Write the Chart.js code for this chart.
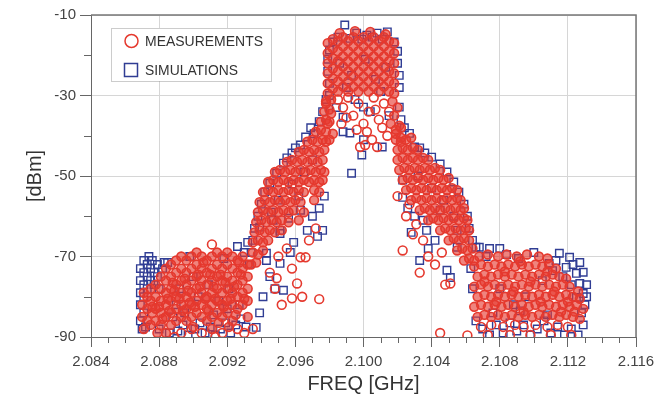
<!DOCTYPE html>
<html lang="en">
<head>
<meta charset="UTF-8">
<title>Spectrum: measurements vs simulations</title>
<script src="https://cdn.jsdelivr.net/npm/chart.js"></script>
<style>
  html, body { margin: 0; padding: 0; background: #fff; }
  #wrap { width: 665px; height: 400px; }
</style>
</head>
<body>
<div id="wrap"><canvas id="spectrumChart" width="665" height="400"></canvas></div>
<script>
  // axis ticks
  const freqTicks = [2.084, 2.088, 2.092, 2.096, 2.100, 2.104, 2.108, 2.112, 2.116];
  const dbmTicks = [-90, -70, -50, -30, -10];
  const dbmMinorTicks = [-80, -60, -40, -20];
  const seriesNames = ['MEASUREMENTS', 'SIMULATIONS'];

  const measFloorLow = [
    [2.0870,-82],[2.0870,-85],[2.0871,-79],[2.0871,-88],[2.0873,-80],[2.0873,-83],[2.0873,-86],
    [2.0875,-78],[2.0875,-81],[2.0876,-84],[2.0875,-87],[2.0876,-82.5],
    [2.0878,-77],[2.0878,-80],[2.0878,-83],[2.0878,-86],[2.0879,-89],
    [2.0881,-75],[2.0881,-78],[2.0881,-81],[2.0881,-84],[2.0881,-87],[2.0882,-85.5],
    [2.0884,-73],[2.0884,-76],[2.0884,-79],[2.0884,-82],[2.0884,-85],[2.0884,-89],[2.0885,-80.5],
    [2.0887,-72],[2.0887,-75],[2.0887,-78],[2.0887,-81],[2.0887,-84],[2.0887,-87],[2.0889,-78.5],
    [2.0890,-71],[2.0890,-74],[2.0890,-77],[2.0890,-80],[2.0890,-83],[2.0890,-86],
    [2.0893,-70],[2.0893,-73],[2.0893,-76],[2.0893,-79],[2.0893,-82],[2.0893,-85],[2.0895,-75.5],
    [2.0896,-71],[2.0896,-74],[2.0896,-77],[2.0896,-80],[2.0896,-83],[2.0896,-86],[2.0898,-81.5],
    [2.0899,-70],[2.0899,-73],[2.0899,-76],[2.0899,-79],[2.0899,-82],[2.0899,-85],[2.0900,-87.5],
    [2.0902,-69],[2.0902,-72],[2.0902,-75],[2.0902,-78],[2.0902,-81],[2.0902,-84],[2.0904,-77.5],
    [2.0905,-70],[2.0905,-73],[2.0905,-76],[2.0905,-79],[2.0905,-82],[2.0905,-85],
    [2.0908,-71],[2.0908,-74],[2.0908,-77],[2.0908,-80],[2.0908,-83],[2.0908,-86],[2.0910,-74.5],
    [2.0911,-70],[2.0911,-73],[2.0911,-76],[2.0911,-79],[2.0911,-82],[2.0911,-85],[2.0911,-88],
    [2.0913,-80.5],
    [2.0914,-69],[2.0914,-72],[2.0914,-75],[2.0914,-78],[2.0914,-81],[2.0914,-84],[2.0915,-86.5],
    [2.0917,-70],[2.0917,-73],[2.0917,-76],[2.0917,-79],[2.0917,-82],[2.0917,-85],[2.0919,-76.5],
    [2.0920,-69],[2.0920,-72],[2.0920,-75],[2.0920,-78],[2.0920,-81],[2.0920,-84],[2.0921,-87.5],[2.0922,-80.5],
    [2.0923,-70],[2.0923,-73],[2.0923,-76],[2.0923,-79],[2.0923,-82],[2.0923,-86],
    [2.0926,-71],[2.0926,-74],[2.0926,-77],[2.0926,-80],[2.0926,-83],[2.0928,-74.5],
    [2.0929,-70],[2.0929,-73],[2.0929,-76],[2.0929,-79],[2.0929,-82],
    [2.0932,-72],[2.0932,-75],[2.0932,-78],[2.0932,-81],[2.0932,-85],
    [2.0888,-76.5],[2.0892,-80.5],[2.0894,-83.5],[2.0897,-78.5],[2.0901,-82.5],[2.0903,-74.5],
    [2.0907,-80.5],[2.0909,-83.5],[2.0912,-77.5],[2.0916,-74.5],[2.0918,-82.5],[2.0924,-77.5],
    [2.0925,-84.5],[2.0927,-71.5],[2.0930,-80.5],[2.0906,-71.5],[2.0886,-83.5],[2.0880,-82.5]
  ];
  const measShoulderLow = [
    [2.0934,-72],[2.0937,-71.5],
    [2.0935,-69],[2.0938,-69.5],[2.0941,-68.5],
    [2.0935,-66.5],[2.0938,-66],[2.0941,-66.5],[2.0944,-66],
    [2.0936,-64],[2.0939,-63.5],[2.0942,-64],[2.0945,-63.5],[2.0948,-64],[2.0952,-63.5],
    [2.0937,-61.5],[2.0940,-61],[2.0943,-61.5],[2.0946,-61],[2.0949,-61.5],[2.0952,-61],[2.0956,-61.5],[2.0962,-61],
    [2.0938,-59],[2.0941,-58.5],[2.0944,-59],[2.0947,-58.5],[2.0950,-59],[2.0953,-58.5],[2.0956,-59],[2.0959,-58.5],[2.0965,-59],
    [2.0939,-56.5],[2.0942,-56],[2.0945,-56.5],[2.0948,-56],[2.0951,-56.5],[2.0954,-56],[2.0957,-56.5],[2.0960,-56],[2.0963,-56.5],[2.0971,-56],
    [2.0941,-54],[2.0944,-53.5],[2.0947,-54],[2.0950,-53.5],[2.0953,-54],[2.0956,-53.5],[2.0959,-54],[2.0962,-53.5],[2.0965,-54],[2.0971,-53.5],[2.0974,-54],
    [2.0944,-51.5],[2.0947,-51],[2.0950,-51.5],[2.0953,-51],[2.0956,-51.5],[2.0959,-51],[2.0962,-51.5],[2.0965,-51],[2.0968,-51.5],[2.0971,-51],[2.0974,-51.5],[2.0976,-51],
    [2.0948,-49],[2.0951,-48.5],[2.0954,-49],[2.0957,-48.5],[2.0960,-49],[2.0963,-48.5],[2.0966,-49],[2.0969,-48.5],[2.0972,-49],[2.0975,-48.5],[2.0977,-49],
    [2.0955,-46.5],[2.0958,-46],[2.0961,-46.5],[2.0964,-46],[2.0967,-46.5],[2.0970,-46],[2.0973,-46.5],[2.0976,-46],
    [2.0962,-44],[2.0965,-43.5],[2.0968,-44],[2.0971,-43.5],[2.0974,-44],[2.0977,-43.5],
    [2.0967,-41.5],[2.0970,-41],[2.0973,-41.5],[2.0976,-41],[2.0978,-41.5],
    [2.0972,-39],[2.0975,-38.5],[2.0978,-39],
    [2.0975,-36.5],[2.0978,-36],[2.0980,-36.5],
    [2.0977,-34],[2.0980,-33.5],
    [2.0978,-31.5],[2.0981,-31]
  ];
  const measChannel = [
    [2.0979,-17],[2.0979,-19.5],[2.0979,-22],[2.0979,-24.5],[2.0979,-27],[2.0979,-29.5],
    [2.0982,-16],[2.0982,-18.3],[2.0982,-20.8],[2.0982,-23.3],[2.0982,-25.8],[2.0982,-28.3],
    [2.0985,-16.5],[2.0985,-19],[2.0985,-21.5],[2.0985,-24],[2.0985,-26.5],[2.0985,-29],
    [2.0988,-15.5],[2.0988,-17.8],[2.0988,-20.3],[2.0988,-22.8],[2.0988,-25.3],[2.0988,-27.8],
    [2.0991,-16.5],[2.0991,-19],[2.0991,-21.5],[2.0991,-24],[2.0991,-26.5],[2.0991,-29],
    [2.0994,-15.5],[2.0994,-17.8],[2.0994,-20.3],[2.0994,-22.8],[2.0994,-25.3],[2.0994,-27.8],
    [2.0997,-16.5],[2.0997,-19],[2.0997,-21.5],[2.0997,-24],[2.0997,-26.5],[2.0997,-29],
    [2.1000,-15.5],[2.1000,-17.8],[2.1000,-20.3],[2.1000,-22.8],[2.1000,-25.3],[2.1000,-27.8],
    [2.1003,-16.5],[2.1003,-19],[2.1003,-21.5],[2.1003,-24],[2.1003,-26.5],[2.1003,-29],
    [2.1006,-15.5],[2.1006,-17.8],[2.1006,-20.3],[2.1006,-22.8],[2.1006,-25.3],[2.1006,-27.8],
    [2.1009,-16.5],[2.1009,-19],[2.1009,-21.5],[2.1009,-24],[2.1009,-26.5],[2.1009,-29],
    [2.1012,-15.5],[2.1012,-17.8],[2.1012,-20.3],[2.1012,-22.8],[2.1012,-25.3],[2.1012,-27.8],
    [2.1015,-16.5],[2.1015,-19],[2.1015,-21.5],[2.1015,-24],[2.1015,-26.5],[2.1015,-29],
    [2.1018,-17],[2.1018,-19.5],[2.1018,-22],[2.1018,-24.5],[2.1018,-27],[2.1018,-29.5],
    [2.0986,-14.5],[2.0995,-14],[2.1004,-14.2],[2.1013,-14.8],
    [2.0978,-32],[2.0981,-34.5],[2.0979,-37],[2.0982,-39.5],[2.0980,-41],
    [2.1017,-31.5],[2.1020,-33],[2.1018,-35],[2.1021,-37.5],[2.1019,-39.5],[2.1022,-41.5],[2.1016,-37]
  ];
  const measShoulderHigh = [
    [2.1019,-38.5],[2.1022,-38],
    [2.1019,-41],[2.1022,-40.5],[2.1025,-41],[2.1028,-40.5],
    [2.1020,-43.5],[2.1023,-43],[2.1026,-43.5],[2.1029,-43],[2.1032,-43.5],
    [2.1020,-46],[2.1023,-45.5],[2.1026,-46],[2.1029,-45.5],[2.1032,-46],[2.1035,-45.5],[2.1038,-46],
    [2.1021,-48.5],[2.1024,-48],[2.1027,-48.5],[2.1030,-48],[2.1033,-48.5],[2.1036,-48],[2.1039,-48.5],[2.1042,-48],[2.1045,-48.5],
    [2.1023,-51],[2.1026,-50.5],[2.1029,-51],[2.1032,-50.5],[2.1035,-51],[2.1038,-50.5],[2.1041,-51],[2.1044,-50.5],[2.1047,-51],[2.1050,-50.5],
    [2.1025,-53.5],[2.1028,-53],[2.1031,-53.5],[2.1034,-53],[2.1037,-53.5],[2.1040,-53],[2.1043,-53.5],[2.1046,-53],[2.1049,-53.5],[2.1052,-53],[2.1055,-53.5],
    [2.1028,-56],[2.1031,-55.5],[2.1034,-56],[2.1037,-55.5],[2.1040,-56],[2.1043,-55.5],[2.1046,-56],[2.1049,-55.5],[2.1052,-56],[2.1055,-55.5],[2.1057,-56],
    [2.1033,-58.5],[2.1036,-58],[2.1039,-58.5],[2.1042,-58],[2.1045,-58.5],[2.1048,-58],[2.1051,-58.5],[2.1054,-58],[2.1057,-58.5],[2.1059,-58],
    [2.1038,-61],[2.1041,-60.5],[2.1044,-61],[2.1047,-60.5],[2.1050,-61],[2.1053,-60.5],[2.1056,-61],[2.1059,-60.5],[2.1061,-61],
    [2.1045,-63.5],[2.1048,-63],[2.1051,-63.5],[2.1054,-63],[2.1057,-63.5],[2.1060,-63],[2.1062,-63.5],
    [2.1050,-66],[2.1053,-65.5],[2.1056,-66],[2.1059,-65.5],[2.1062,-66],
    [2.1055,-68.5],[2.1058,-68],[2.1061,-68.5],[2.1064,-68],
    [2.1059,-71],[2.1062,-70.5],[2.1065,-71]
  ];
  const measFloorHigh = [
    [2.1068,-70],[2.1073,-69.5],[2.1079,-70],[2.1084,-69.5],[2.1090,-70],[2.1096,-69.5],[2.1103,-70],[2.1108,-70.5],
    [2.1065,-72.5],[2.1069,-72],[2.1073,-72.5],[2.1077,-72],[2.1081,-72.5],[2.1085,-72],[2.1089,-72.5],
    [2.1093,-72],[2.1097,-72.5],[2.1101,-72],[2.1105,-72.5],[2.1109,-72],[2.1113,-73],
    [2.1067,-75],[2.1071,-74.5],[2.1075,-75],[2.1079,-74.5],[2.1083,-75],[2.1087,-74.5],[2.1091,-75],
    [2.1095,-74.5],[2.1099,-75],[2.1103,-74.5],[2.1107,-75],[2.1111,-74.5],[2.1115,-75],[2.1119,-75.5],
    [2.1065,-77.5],[2.1069,-77],[2.1073,-77.5],[2.1077,-77],[2.1081,-77.5],[2.1085,-77],[2.1089,-77.5],[2.1093,-77],
    [2.1097,-77.5],[2.1101,-77],[2.1105,-77.5],[2.1109,-77],[2.1113,-77.5],[2.1117,-77],[2.1121,-77.5],
    [2.1067,-80],[2.1071,-79.5],[2.1075,-80],[2.1079,-79.5],[2.1083,-80],[2.1087,-79.5],[2.1091,-80],[2.1095,-79.5],
    [2.1099,-80],[2.1103,-79.5],[2.1107,-80],[2.1111,-79.5],[2.1115,-80],[2.1119,-79.5],[2.1123,-80],[2.1127,-80.5],
    [2.1065,-82.5],[2.1069,-82],[2.1073,-82.5],[2.1077,-82],[2.1081,-82.5],[2.1085,-82],[2.1089,-82.5],[2.1093,-82],
    [2.1097,-82.5],[2.1101,-82],[2.1105,-82.5],[2.1109,-82],[2.1113,-82.5],[2.1117,-82],[2.1121,-82.5],[2.1125,-82],[2.1129,-83],
    [2.1067,-85],[2.1071,-84.5],[2.1075,-85],[2.1079,-84.5],[2.1083,-85],[2.1087,-84.5],[2.1091,-85],[2.1095,-84.5],
    [2.1099,-85],[2.1103,-84.5],[2.1107,-85],[2.1111,-84.5],[2.1115,-85],[2.1119,-84.5],[2.1123,-85],[2.1127,-85.5],
    [2.1071,-76.2],[2.1078,-81.2],[2.1083,-73.7],[2.1088,-78.7],[2.1094,-83.7],[2.1098,-76.2],[2.1104,-81.2],
    [2.1108,-73.7],[2.1112,-78.7],[2.1116,-83.7],[2.1120,-81.2],[2.1124,-83.7],[2.1126,-78.7],[2.1092,-71.2]
  ];
  // isolated measured points away from the dense bands (hollow circles)
  const measOutliers = [
    [2.0889,-90],[2.0893,-89],[2.0899,-88],[2.0905,-89],[2.0911,-67],[2.0913,-90],[2.0917,-89],
    [2.0926,-88],[2.0930,-89],[2.0935,-88],
    [2.0945,-74],[2.0949,-75.4],[2.0950,-70],[2.0955,-68],[2.0958,-73],[2.0961,-76.7],[2.0963,-70.2],
    [2.0966,-70.2],[2.0958,-80.4],[2.0964,-80],[2.0974,-80.6],[2.0948,-78],[2.0952,-82],[2.0968,-66],[2.0972,-63],
    [2.0985,-31],[2.0988,-33],[2.0991,-30.5],[2.0994,-35],[2.0997,-32],[2.1000,-37],[2.1003,-34],
    [2.1006,-30.5],[2.1009,-36],[2.1012,-32],[2.1015,-34],[2.0987,-37],[2.0998,-42.8],[2.1001,-42.3],
    [2.1005,-41],[2.1008,-42.8],[2.1011,-38],[2.1014,-40],[2.0996,-38.5],[2.1002,-39],[2.0990,-35.5],[2.1007,-33.5],
    [2.1023,-68.5],[2.1029,-64.5],[2.1042,-72],[2.1046,-69],[2.1035,-66],[2.1025,-60],[2.1031,-62],
    [2.1051,-76.7],[2.1038,-70],[2.1048,-77],[2.1027,-57],[2.1045,-89],[2.1061,-89.6],[2.1020,-55],[2.1033,-74],
    [2.1069,-87.5],[2.1075,-87],[2.1082,-87.5],[2.1089,-87],[2.1094,-87.5],[2.1101,-87],[2.1108,-87.5],[2.1114,-87],[2.1120,-87.5],
    [2.1073,-89.5],[2.1086,-89.5],[2.1098,-89.5],[2.1110,-89.5],[2.1122,-89.5]
  ];

  // simulated points, [freq GHz, dBm]
  const simFloorLow = [
    [2.0869,-73],[2.0869,-76],[2.0869,-79],[2.0869,-82],[2.0869,-86],
    [2.0871,-71],[2.0871,-74],[2.0871,-77],[2.0871,-80],[2.0871,-84],
    [2.0873,-72],[2.0873,-75],[2.0873,-78],[2.0874,-70],[2.0875,-73],[2.0875,-76],
    [2.0876,-71],[2.0877,-74],[2.0877,-77],[2.0879,-72],[2.0879,-75],[2.0880,-78],
    [2.0882,-73],[2.0883,-71.5],[2.0870,-88],[2.0872,-87.5],
    [2.0880,-88],[2.0886,-89],[2.0891,-88.5],[2.0894,-87],[2.0897,-89.5],[2.0901,-88],
    [2.0904,-86.5],[2.0907,-89],[2.0910,-87.5],[2.0913,-89.5],[2.0916,-88],[2.0919,-86.5],
    [2.0922,-89],[2.0925,-87],[2.0928,-85.5],[2.0931,-87.5],[2.0888,-85],[2.0895,-84],
    [2.0912,-84.5],[2.0920,-83],[2.0927,-82],
    [2.0926,-67.5],[2.0930,-69],[2.0918,-70.5],[2.0898,-70],[2.0885,-71.5],[2.0932,-66.5],
    [2.0892,-78],[2.0903,-80],[2.0909,-77],[2.0915,-81],[2.0921,-78],[2.0900,-75],[2.0890,-82]
  ];
  const simShoulderLow = [
    [2.0974,-36.5],[2.0969,-38],[2.0966,-40.3],[2.0963,-42.3],[2.0960,-43],[2.0958,-44.3],[2.0955,-45.5],
    [2.0953,-46.8],[2.0949,-49.3],[2.0945,-51.8],[2.0942,-54],[2.0940,-57],[2.0938,-60],[2.0936,-63],
    [2.0935,-66],[2.0934,-69],[2.0933,-72],[2.0971,-39.5],[2.0976,-34],[2.0978,-31],
    [2.0973,-65],[2.0976,-63.5],[2.0967,-63.5],[2.0951,-63.5],[2.0947,-61],[2.0963,-58.5],[2.0970,-60],
    [2.0939,-62.7],[2.0943,-71],[2.0951,-71.7],[2.0948,-78],[2.0953,-78.4],[2.0939,-84],[2.0937,-87.6],
    [2.0951,-64.3],[2.0959,-66.5],[2.0943,-69.2],[2.0957,-69],[2.0945,-75],[2.0941,-80],[2.0956,-60.5],
    [2.0974,-58],[2.0977,-55],
    [2.0950,-56],[2.0958,-52],[2.0965,-49],[2.0970,-46],[2.0946,-59],[2.0962,-55]
  ];
  const simChannel = [
    [2.0989,-12.5],[2.0996,-14.5],[2.1002,-15],[2.1008,-14.5],[2.1014,-14.2],[2.1018,-16.7],[2.0982,-16.7],
    [2.0980,-18.7],[2.0985,-15.5],[2.0992,-15.8],[2.0999,-16],[2.1005,-15.5],[2.1011,-16],
    [2.0979,-21],[2.0979,-24],[2.0980,-27],[2.0980,-30],
    [2.1020,-19],[2.1020,-22],[2.1021,-25],[2.1021,-28],[2.1021,-32.9],[2.1022,-36],
    [2.0986,-22],[2.0993,-25],[2.1001,-21],[2.1007,-26],[2.1013,-23],[2.0990,-28],[2.1010,-29],
    [2.0988,-39],[2.0992,-39.3],[2.0999,-44.8],[2.0993,-49.3],[2.1011,-42.8],[2.1000,-41],
    [2.0988,-35.4],[2.1000,-32.9],[2.0995,-31],[2.1004,-34],[2.1015,-35],[2.0984,-33]
  ];
  const simShoulderHigh = [
    [2.1027,-39.4],[2.1030,-42.8],[2.1036,-44.3],[2.1040,-45.3],[2.1045,-47],[2.1049,-49],[2.1053,-51.5],
    [2.1056,-54],[2.1059,-57],[2.1061,-60],[2.1062,-63],[2.1064,-66],[2.1024,-38],[2.1033,-43],
    [2.1023,-51],[2.1023,-55.3],[2.1035,-61],[2.1037,-63.5],[2.1045,-58.5],[2.1033,-71],[2.1049,-73.4],
    [2.1055,-63.5],[2.1055,-67.7],[2.1066,-67.7],[2.1074,-68],[2.1080,-68],[2.1051,-75.2],
    [2.1026,-58],[2.1030,-60],[2.1042,-66],[2.1038,-68],[2.1028,-64],
    [2.1032,-50],[2.1040,-53],[2.1047,-56],[2.1053,-60]
  ];
  const simFloorHigh = [
    [2.1115,-69.2],[2.1121,-70.2],[2.1119,-72.7],[2.1125,-74.2],[2.1129,-73.9],[2.1127,-76.7],[2.1129,-79.2],
    [2.1125,-80.2],[2.1113,-71],[2.1109,-71.7],[2.1100,-69],[2.1131,-77],[2.1131,-80],[2.1130,-82],
    [2.1122,-77],[2.1117,-75],[2.1123,-72],[2.1127,-71.5],[2.1111,-73.5],[2.1128,-84],
    [2.1066,-86],[2.1070,-88],[2.1074,-89.5],[2.1078,-87],[2.1082,-89],[2.1086,-86.5],[2.1090,-88.5],
    [2.1094,-87],[2.1098,-89.5],[2.1102,-88],[2.1106,-86],[2.1110,-89],[2.1114,-87.5],[2.1118,-89.5],
    [2.1122,-88],[2.1126,-89.5],[2.1129,-87],[2.1076,-84],[2.1092,-83.5],[2.1108,-84.5],
    [2.1068,-67.7],[2.1072,-70],[2.1084,-69.5],[2.1091,-70.5],[2.1063,-73],[2.1064,-78],
    [2.1080,-78],[2.1095,-80],[2.1105,-76],[2.1088,-82]
  ];

  const FONT = '"Liberation Sans", Arial, sans-serif';
  const RED = '#e5392e';
  const BLUE = '#303d94';

  const toXY = pts => pts.map(p => ({ x: p[0], y: p[1] }));
  const measDense = [...measFloorLow, ...measShoulderLow, ...measChannel, ...measShoulderHigh, ...measFloorHigh];

  // short ticks between labels, the top/right frame and the boxed legend
  const extras = {
    id: 'extras',
    afterDraw(chart) {
      const { ctx, chartArea: a, scales: { x, y } } = chart;
      ctx.save();
      ctx.strokeStyle = '#666';
      ctx.lineWidth = 1;
      ctx.beginPath();
      for (let i = 0; i <= 32; i++) {
        if (i % 4 === 0) continue;
        const px = Math.round(x.getPixelForValue(2.084 + i * 0.001)) + 0.5;
        ctx.moveTo(px, a.bottom);
        ctx.lineTo(px, a.bottom + 6);
      }
      dbmMinorTicks.forEach(v => {
        const py = Math.round(y.getPixelForValue(v)) + 0.5;
        ctx.moveTo(a.left - 7, py);
        ctx.lineTo(a.left, py);
      });
      ctx.stroke();

      ctx.strokeStyle = '#777';
      ctx.lineWidth = 1.5;
      ctx.beginPath();
      ctx.moveTo(a.left, a.top);
      ctx.lineTo(a.right, a.top);
      ctx.lineTo(a.right, a.bottom);
      ctx.stroke();

      // legend box
      const bx = 111, by = 28, bw = 160, bh = 53;
      ctx.fillStyle = '#fff';
      ctx.fillRect(bx, by, bw, bh);
      ctx.setLineDash([1, 1]);
      ctx.strokeStyle = '#999';
      ctx.lineWidth = 1;
      ctx.strokeRect(bx + 0.5, by + 0.5, bw, bh);
      ctx.setLineDash([]);
      ctx.font = '14px ' + FONT;
      ctx.textBaseline = 'middle';
      chart.data.datasets.forEach((ds, i) => {
        const cy = 41 + i * 29;
        ctx.strokeStyle = ds.borderColor;
        ctx.lineWidth = 1.5;
        ctx.beginPath();
        if (ds.pointStyle === 'rect') ctx.rect(124.5, cy - 6.5, 13, 13);
        else ctx.arc(131.5, cy, 6.5, 0, Math.PI * 2);
        ctx.stroke();
        ctx.fillStyle = '#333';
        ctx.fillText(ds.label, 145, cy + 1, i === 0 ? 118 : 93);
      });
      ctx.restore();
    }
  };

  new Chart(document.getElementById('spectrumChart'), {
    type: 'scatter',
    data: {
      datasets: [{
        label: seriesNames[0],
        data: toXY([...measDense, ...measOutliers]),
        pointStyle: 'circle',
        pointRadius: 4.4,
        pointBorderWidth: 1.6,
        borderColor: RED,
        // dense bands read as solid red in the picture, isolated points stay hollow
        backgroundColor: c => c.dataIndex < measDense.length ? 'rgba(229,57,46,0.62)' : 'rgba(0,0,0,0)'
      }, {
        label: seriesNames[1],
        data: toXY([...simFloorLow, ...simShoulderLow, ...simChannel, ...simShoulderHigh, ...simFloorHigh]),
        pointStyle: 'rect',
        pointRadius: 5.3,
        pointBorderWidth: 1.4,
        borderColor: BLUE,
        backgroundColor: 'rgba(0,0,0,0)'
      }]
    },
    options: {
      responsive: false,
      animation: false,
      layout: { padding: { top: 15, right: 29, left: 0, bottom: 0 } },
      plugins: {
        legend: { display: false },
        tooltip: { enabled: false }
      },
      scales: {
        x: {
          type: 'linear',
          min: 2.084,
          max: 2.116,
          afterBuildTicks: s => { s.ticks = freqTicks.map(v => ({ value: v })); },
          afterFit: s => { s.height = 63; },
          ticks: {
            callback: v => Number(v).toFixed(3),
            font: { family: FONT, size: 15 },
            color: '#444',
            padding: 6,
            maxRotation: 0,
            autoSkip: false
          },
          grid: { color: '#d6d6d6', lineWidth: 1, tickColor: '#666', tickLength: 10 },
          border: { color: '#666', width: 1 },
          title: {
            display: true,
            text: 'FREQ [GHz]',
            font: { family: FONT, size: 20 },
            color: '#333',
            padding: { top: 0, bottom: 4 }
          }
        },
        y: {
          type: 'linear',
          min: -90,
          max: -10,
          afterBuildTicks: s => { s.ticks = dbmTicks.map(v => ({ value: v })); },
          afterFit: s => { s.width = 91; },
          ticks: {
            callback: v => String(v),
            font: { family: FONT, size: 15 },
            color: '#444',
            padding: 4
          },
          grid: { color: '#d6d6d6', lineWidth: 1, tickColor: '#666', tickLength: 11 },
          border: { color: '#666', width: 1 },
          title: {
            display: true,
            text: '[dBm]',
            font: { family: FONT, size: 20 },
            color: '#333',
            padding: { top: 23, bottom: 0 }
          }
        }
      }
    },
    plugins: [extras]
  });
</script>
</body>
</html>
